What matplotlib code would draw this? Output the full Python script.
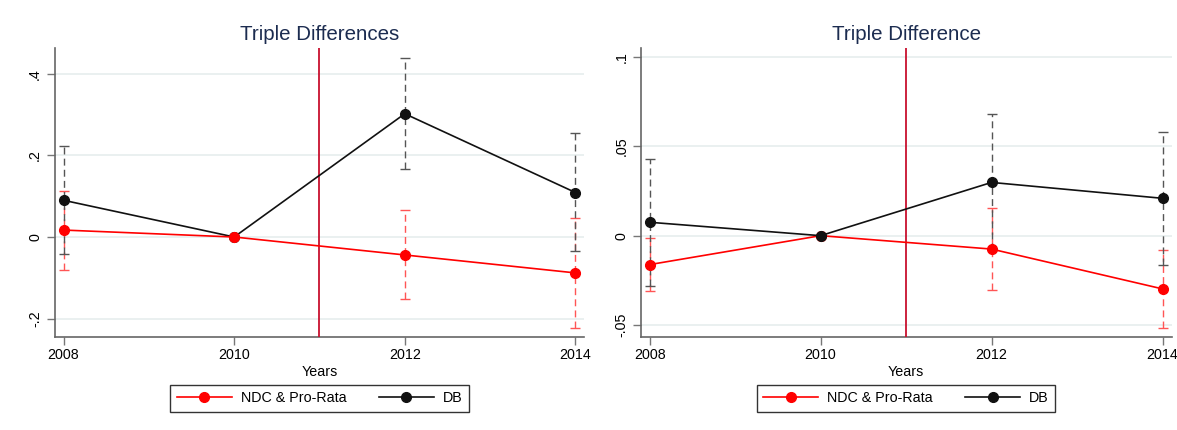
import numpy as np
import matplotlib.pyplot as plt

plt.rcParams['font.family'] = ['Liberation Sans', 'DejaVu Sans']

years = [2008, 2010, 2012, 2014]
series_names = ['NDC & Pro-Rata', 'DB']

# left panel: triple differences
left_ndc = [0.017, 0.0, -0.044, -0.088]
left_ndc_lo = [-0.081, 0.0, -0.153, -0.224]
left_ndc_hi = [0.113, 0.0, 0.066, 0.047]
left_db = [0.090, 0.0, 0.302, 0.109]
left_db_lo = [-0.042, 0.0, 0.166, -0.035]
left_db_hi = [0.224, 0.0, 0.439, 0.254]

# right panel: triple difference
right_ndc = [-0.0162, 0.0, -0.0075, -0.0298]
right_ndc_lo = [-0.0312, 0.0, -0.0304, -0.0517]
right_ndc_hi = [-0.0015, 0.0, 0.0155, -0.0082]
right_db = [0.0075, 0.0, 0.0298, 0.0209]
right_db_lo = [-0.0284, 0.0, -0.0082, -0.0166]
right_db_hi = [0.0427, 0.0, 0.0683, 0.0582]

RED = '#ff0000'
BLACK = '#111111'
TITLE = '#1c2c50'
VLINE = '#c8102e'


def ci_bars(ax, est, lo, hi, color):
    est = np.array(est)
    err = [est - np.array(lo), np.array(hi) - est]
    eb = ax.errorbar(years, est, yerr=err, fmt='none', ecolor=color,
                     elinewidth=1.0, capsize=3.5, capthick=1.0, zorder=2)
    eb[2][0].set_linestyle((0, (5, 3)))


def panel(ax, title, ndc, ndc_lo, ndc_hi, db, db_lo, db_hi,
          ylim, yticks, yticklabels, black_on_top):
    for y in yticks:
        ax.axhline(y, color='#e6eeee', lw=1.2, zorder=0)
    ci_bars(ax, ndc, ndc_lo, ndc_hi, '#ff5555')
    ci_bars(ax, db, db_lo, db_hi, '#555555')
    ax.axvline(2011, color=VLINE, lw=1.3, zorder=3)
    zr, zb = (4, 5) if black_on_top else (5, 4)
    ax.plot(years, ndc, color=RED, marker='o', ms=7, lw=1.2,
            label=series_names[0], zorder=zr)
    ax.plot(years, db, color=BLACK, marker='o', ms=7, lw=1.2,
            label=series_names[1], zorder=zb)

    ax.set_xlim(2007.897, 2014.105)
    ax.set_ylim(*ylim)
    ax.set_xticks(years)
    ax.set_yticks(yticks)
    ax.set_yticklabels(yticklabels, rotation=90, va='center')
    ax.tick_params(labelsize=10.3, length=6, color='#777777', width=1)
    ax.tick_params(axis='x', pad=2)
    ax.tick_params(axis='y', pad=3)
    ax.set_xlabel('Years', fontsize=10.3, labelpad=2)
    ax.set_title(title, fontsize=14.8, color=TITLE, pad=6)
    for s in ['top', 'right']:
        ax.spines[s].set_visible(False)
    for s in ['left', 'bottom']:
        ax.spines[s].set_color('#666666')
        ax.spines[s].set_linewidth(1.2)
    leg = ax.legend(loc='upper center', bbox_to_anchor=(0.5, -0.166), ncol=2,
                    fancybox=False, edgecolor='#333333', fontsize=10.3,
                    handlelength=3.85, handletextpad=0.63, columnspacing=2.25,
                    borderpad=0.45, borderaxespad=0, framealpha=1)
    leg.get_frame().set_linewidth(1.0)


fig = plt.figure(figsize=(11.77, 4.30), dpi=100)
ax1 = fig.add_axes([0.0465, 0.2163, 0.450, 0.672])
ax2 = fig.add_axes([0.5444, 0.2163, 0.451, 0.672])

panel(ax1, 'Triple Differences', left_ndc, left_ndc_lo, left_ndc_hi,
      left_db, left_db_lo, left_db_hi,
      (-0.245, 0.463), [-0.2, 0, 0.2, 0.4], ['-.2', '0', '.2', '.4'], False)
panel(ax2, 'Triple Difference', right_ndc, right_ndc_lo, right_ndc_hi,
      right_db, right_db_lo, right_db_hi,
      (-0.0567, 0.105), [-0.05, 0, 0.05, 0.1], ['-.05', '0', '.05', '.1'], True)

fig.savefig('out.png', dpi=100)
